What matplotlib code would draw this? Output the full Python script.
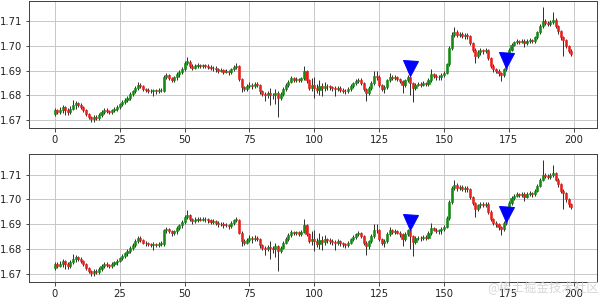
import matplotlib
matplotlib.use("Agg")
import matplotlib.pyplot as plt
import numpy as np

opens = [
1.6722,1.6738,1.6732,1.6740,1.6750,1.6740,1.6732,1.6745,1.6758,1.6768,
1.6760,1.6750,1.6738,1.6722,1.6710,1.6702,1.6712,1.6708,1.6720,1.6730,
1.6740,1.6735,1.6730,1.6738,1.6745,1.6752,1.6762,1.6770,1.6782,1.6790,
1.6805,1.6815,1.6830,1.6842,1.6835,1.6825,1.6822,1.6818,1.6815,1.6820,
1.6815,1.6820,1.6818,1.6875,1.6880,1.6870,1.6862,1.6872,1.6885,1.6895,
1.6908,1.6930,1.6935,1.6920,1.6912,1.6918,1.6922,1.6918,1.6922,1.6920,
1.6915,1.6910,1.6912,1.6905,1.6900,1.6902,1.6895,1.6898,1.6892,1.6905,
1.6915,1.6918,1.6865,1.6832,1.6825,1.6835,1.6842,1.6838,1.6845,1.6840,
1.6815,1.6805,1.6800,1.6808,1.6802,1.6800,1.6810,1.6790,1.6805,1.6825,
1.6840,1.6855,1.6868,1.6862,1.6866,1.6860,1.6868,1.6898,1.6860,1.6830,
1.6840,1.6830,1.6820,1.6835,1.6828,1.6838,1.6835,1.6832,1.6828,1.6825,
1.6830,1.6822,1.6818,1.6815,1.6825,1.6838,1.6848,1.6858,1.6862,1.6850,
1.6825,1.6810,1.6830,1.6850,1.6878,1.6875,1.6840,1.6825,1.6832,1.6860,
1.6875,1.6868,1.6872,1.6865,1.6858,1.6840,1.6860,1.6875,1.6850,1.6828,
1.6842,1.6845,1.6842,1.6848,1.6845,1.6862,1.6885,1.6878,1.6872,1.6875,
1.6880,1.6890,1.6925,1.6990,1.7045,1.7058,1.7045,1.7050,1.7040,1.7045,
1.7040,1.7010,1.6985,1.6960,1.6975,1.6982,1.6978,1.6982,1.6950,1.6920,
1.6905,1.6900,1.6888,1.6880,1.6905,1.6950,1.6985,1.7005,1.7015,1.7020,
1.7018,1.7022,1.7010,1.7020,1.7025,1.7020,1.7035,1.7055,1.7080,1.7100,
1.7095,1.7090,1.7098,1.7105,1.7080,1.7060,1.7035,1.7025,1.7000,1.6980,
]
closes = [
1.6740,1.6732,1.6740,1.6750,1.6740,1.6732,1.6745,1.6758,1.6768,1.6760,
1.6750,1.6738,1.6722,1.6710,1.6702,1.6712,1.6708,1.6720,1.6730,1.6740,
1.6735,1.6730,1.6738,1.6745,1.6752,1.6762,1.6770,1.6782,1.6790,1.6805,
1.6815,1.6830,1.6842,1.6835,1.6825,1.6822,1.6818,1.6815,1.6820,1.6815,
1.6820,1.6822,1.6875,1.6880,1.6870,1.6862,1.6872,1.6885,1.6895,1.6908,
1.6930,1.6938,1.6920,1.6912,1.6918,1.6922,1.6918,1.6922,1.6920,1.6915,
1.6910,1.6912,1.6905,1.6900,1.6902,1.6895,1.6898,1.6892,1.6905,1.6915,
1.6920,1.6865,1.6832,1.6825,1.6835,1.6842,1.6838,1.6845,1.6840,1.6815,
1.6805,1.6800,1.6808,1.6802,1.6800,1.6810,1.6790,1.6805,1.6825,1.6840,
1.6855,1.6868,1.6862,1.6866,1.6860,1.6868,1.6898,1.6860,1.6830,1.6840,
1.6830,1.6820,1.6835,1.6828,1.6838,1.6835,1.6832,1.6828,1.6825,1.6830,
1.6822,1.6818,1.6815,1.6825,1.6838,1.6848,1.6858,1.6862,1.6850,1.6825,
1.6810,1.6830,1.6850,1.6878,1.6875,1.6840,1.6825,1.6832,1.6860,1.6875,
1.6868,1.6872,1.6865,1.6858,1.6840,1.6860,1.6875,1.6850,1.6828,1.6842,
1.6845,1.6842,1.6848,1.6845,1.6862,1.6885,1.6878,1.6872,1.6875,1.6880,
1.6890,1.6925,1.6990,1.7045,1.7058,1.7045,1.7050,1.7040,1.7045,1.7040,
1.7010,1.6985,1.6960,1.6975,1.6982,1.6978,1.6982,1.6950,1.6920,1.6905,
1.6900,1.6888,1.6880,1.6905,1.6950,1.6985,1.7005,1.7015,1.7020,1.7018,
1.7022,1.7010,1.7020,1.7025,1.7020,1.7035,1.7055,1.7080,1.7100,1.7095,
1.7090,1.7098,1.7105,1.7080,1.7060,1.7035,1.7025,1.7000,1.6980,1.6968,
]
highs = [
1.6748,1.6745,1.6752,1.6760,1.6756,1.6748,1.6755,1.6780,1.6775,1.6772,
1.6766,1.6755,1.6742,1.6728,1.6716,1.6720,1.6718,1.6726,1.6738,1.6748,
1.6746,1.6740,1.6745,1.6752,1.6760,1.6768,1.6778,1.6788,1.6798,1.6812,
1.6822,1.6838,1.6852,1.6850,1.6840,1.6830,1.6828,1.6825,1.6826,1.6825,
1.6828,1.6830,1.6882,1.6888,1.6884,1.6875,1.6878,1.6892,1.6902,1.6915,
1.6938,1.6955,1.6942,1.6926,1.6928,1.6930,1.6928,1.6928,1.6928,1.6926,
1.6922,1.6920,1.6918,1.6912,1.6910,1.6908,1.6905,1.6902,1.6912,1.6922,
1.6930,1.6922,1.6870,1.6838,1.6845,1.6855,1.6850,1.6855,1.6852,1.6845,
1.6820,1.6812,1.6815,1.6830,1.6810,1.6825,1.6815,1.6812,1.6832,1.6848,
1.6862,1.6878,1.6872,1.6872,1.6870,1.6875,1.6920,1.6902,1.6865,1.6870,
1.6875,1.6845,1.6862,1.6850,1.6855,1.6845,1.6842,1.6838,1.6835,1.6838,
1.6836,1.6828,1.6825,1.6832,1.6845,1.6855,1.6865,1.6870,1.6868,1.6855,
1.6830,1.6836,1.6858,1.6900,1.6900,1.6880,1.6845,1.6840,1.6866,1.6890,
1.6880,1.6880,1.6878,1.6870,1.6862,1.6866,1.6882,1.6880,1.6855,1.6850,
1.6852,1.6852,1.6856,1.6855,1.6870,1.6905,1.6890,1.6885,1.6882,1.6888,
1.6898,1.6932,1.6998,1.7055,1.7077,1.7065,1.7058,1.7056,1.7052,1.7052,
1.7046,1.7015,1.6990,1.6982,1.6990,1.6988,1.6990,1.6988,1.6955,1.6926,
1.6912,1.6905,1.6892,1.6912,1.6958,1.6992,1.7012,1.7022,1.7028,1.7026,
1.7030,1.7028,1.7028,1.7032,1.7030,1.7042,1.7062,1.7088,1.7159,1.7108,
1.7102,1.7105,1.7139,1.7112,1.7086,1.7066,1.7042,1.7030,1.7005,1.6986,
]
lows = [
1.6715,1.6722,1.6725,1.6728,1.6718,1.6720,1.6722,1.6738,1.6745,1.6752,
1.6742,1.6730,1.6715,1.6702,1.6692,1.6690,1.6698,1.6700,1.6712,1.6722,
1.6726,1.6722,1.6722,1.6730,1.6736,1.6745,1.6755,1.6762,1.6772,1.6782,
1.6795,1.6808,1.6822,1.6828,1.6818,1.6812,1.6810,1.6808,1.6796,1.6806,
1.6808,1.6812,1.6812,1.6865,1.6862,1.6852,1.6855,1.6860,1.6875,1.6885,
1.6900,1.6922,1.6912,1.6902,1.6905,1.6910,1.6912,1.6912,1.6910,1.6905,
1.6902,1.6900,1.6895,1.6890,1.6892,1.6885,1.6888,1.6880,1.6885,1.6898,
1.6908,1.6858,1.6812,1.6815,1.6818,1.6828,1.6825,1.6830,1.6832,1.6805,
1.6795,1.6775,1.6790,1.6760,1.6785,1.6765,1.6712,1.6782,1.6798,1.6818,
1.6832,1.6848,1.6855,1.6855,1.6852,1.6852,1.6862,1.6850,1.6822,1.6815,
1.6790,1.6808,1.6800,1.6795,1.6815,1.6822,1.6820,1.6815,1.6795,1.6815,
1.6812,1.6808,1.6805,1.6808,1.6818,1.6830,1.6840,1.6850,1.6842,1.6815,
1.6776,1.6800,1.6822,1.6842,1.6862,1.6832,1.6815,1.6808,1.6825,1.6852,
1.6860,1.6860,1.6858,1.6848,1.6810,1.6832,1.6852,1.6800,1.6770,1.6820,
1.6835,1.6832,1.6835,1.6836,1.6838,1.6855,1.6870,1.6862,1.6860,1.6860,
1.6872,1.6885,1.6918,1.6982,1.7038,1.7035,1.7036,1.7032,1.7030,1.7030,
1.7002,1.6975,1.6930,1.6952,1.6965,1.6968,1.6970,1.6942,1.6912,1.6895,
1.6890,1.6878,1.6856,1.6872,1.6898,1.6942,1.6978,1.6998,1.7008,1.7008,
1.7010,1.6995,1.7004,1.7012,1.7010,1.7012,1.7028,1.7048,1.7072,1.7085,
1.7082,1.7082,1.7090,1.7072,1.7050,1.7025,1.6960,1.6990,1.6970,1.6960,
]
signal_idx = [137, 174]
signal_val = [1.6910, 1.6942]
xtick_vals = [0, 25, 50, 75, 100, 125, 150, 175, 200]
ytick_vals = [1.67, 1.68, 1.69, 1.70, 1.71]
watermark = "@稀土掘金技术社区"

o = np.array(opens); c = np.array(closes)
h = np.array(highs); l = np.array(lows)
x = np.arange(len(o))
cols = np.where(c >= o, "#138a13", "#e8201c")

fig = plt.figure(figsize=(600/72, 297/72), dpi=72)
ax1 = fig.add_axes([29/600, 1 - 128/297, 568/600, 127/297])
ax2 = fig.add_axes([29/600, 1 - 282/297, 568/600, 128/297])

for ax in (ax1, ax2):
    ax.vlines(x, l, h, color="#333333", linewidth=1.0, zorder=2)
    ax.bar(x, c - o, bottom=o, width=0.8, color=cols, edgecolor=cols,
           linewidth=0.6, zorder=3)
    ax.plot(signal_idx, signal_val, "v", color="blue", markersize=15, zorder=4)
    ax.set_xticks(xtick_vals)
    ax.set_yticks(ytick_vals)
    ax.set_yticklabels([f"{v:.2f}" for v in ytick_vals])
    ax.set_xlim(-9.95, 208.95)
    ax.set_ylim(1.6666, 1.7183)
    ax.grid(True, color="#c4c4c4", linewidth=0.9, linestyle="-")
    ax.set_axisbelow(True)
    for s in ax.spines.values():
        s.set_color("#444444")
        s.set_linewidth(1.0)
    ax.tick_params(labelsize=10, colors="#222222")

fig.text(0.998, 0.035, watermark, ha="right", va="center", fontsize=12.5,
         color="#d0d0d0", alpha=0.85, family=["Noto Sans CJK SC", "DejaVu Sans"])

fig.savefig("out.png", dpi=72)
